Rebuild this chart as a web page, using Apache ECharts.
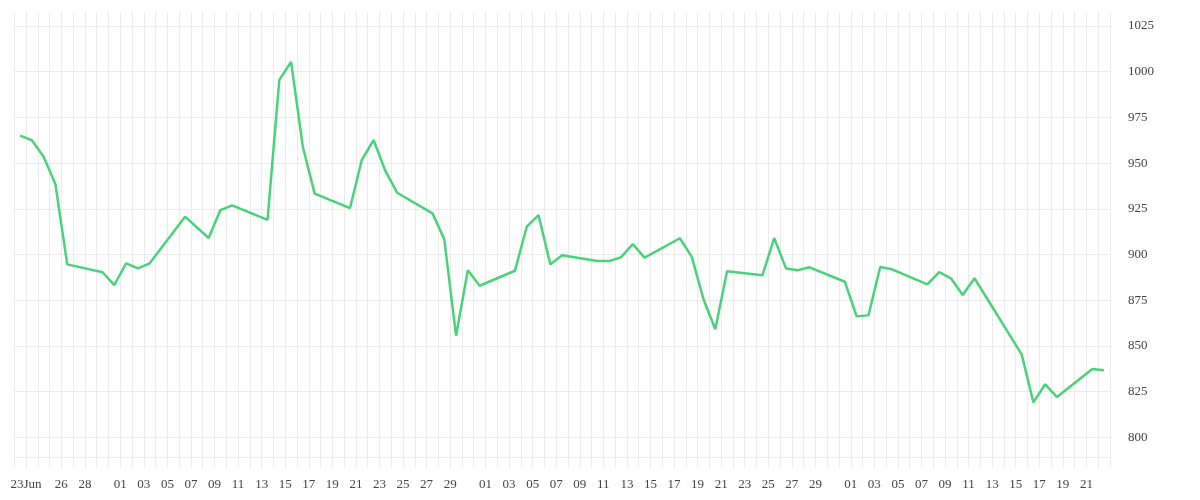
<!DOCTYPE html>
<html>
<head>
<meta charset="utf-8">
<script src="https://cdn.jsdelivr.net/npm/echarts@6/dist/echarts.min.js"></script>
<style>
html,body{margin:0;padding:0;background:#fff;}
#chart{width:1200px;height:500px;}
</style>
</head>
<body>
<div id="chart"></div>
<script>
const dates = ['2020-06-22','2020-06-23','2020-06-24','2020-06-25','2020-06-26','2020-06-29','2020-06-30',
 '2020-07-01','2020-07-02','2020-07-03','2020-07-06','2020-07-08','2020-07-09','2020-07-10','2020-07-13','2020-07-14','2020-07-15','2020-07-16','2020-07-17','2020-07-20','2020-07-21','2020-07-22','2020-07-23','2020-07-24','2020-07-27','2020-07-28','2020-07-29','2020-07-30','2020-07-31',
 '2020-08-03','2020-08-04','2020-08-05','2020-08-06','2020-08-07','2020-08-10','2020-08-11','2020-08-12','2020-08-13','2020-08-14','2020-08-17','2020-08-18','2020-08-19','2020-08-20','2020-08-21','2020-08-24','2020-08-25','2020-08-26','2020-08-27','2020-08-28','2020-08-31',
 '2020-09-01','2020-09-02','2020-09-03','2020-09-04','2020-09-07','2020-09-08','2020-09-09','2020-09-10','2020-09-11','2020-09-15','2020-09-16','2020-09-17','2020-09-18','2020-09-21','2020-09-22'];

const values = [965.0,962.5,953.5,938.4,894.6,890.3,883.3,
 895.2,892.4,895.2,920.7,909.0,924.3,926.9,918.9,995.5,1005.4,958.8,933.3,925.4,951.7,962.6,945.7,933.8,922.5,908.3,855.6,891.4,882.9,
 891.1,915.2,921.6,894.6,899.6,896.4,896.4,898.5,905.7,898.3,908.9,898.8,875.5,859.1,890.8,888.6,909.0,892.4,891.4,893.0,885.1,
 866.2,866.7,893.2,891.9,883.7,890.3,887.0,877.8,887.0,845.4,819.1,829.0,822.0,837.4,836.7];

const tickDates = ['2020-06-23','2020-06-26','2020-06-28',
 '2020-07-01','2020-07-03','2020-07-05','2020-07-07','2020-07-09','2020-07-11','2020-07-13','2020-07-15','2020-07-17','2020-07-19','2020-07-21','2020-07-23','2020-07-25','2020-07-27','2020-07-29',
 '2020-08-01','2020-08-03','2020-08-05','2020-08-07','2020-08-09','2020-08-11','2020-08-13','2020-08-15','2020-08-17','2020-08-19','2020-08-21','2020-08-23','2020-08-25','2020-08-27','2020-08-29',
 '2020-09-01','2020-09-03','2020-09-05','2020-09-07','2020-09-09','2020-09-11','2020-09-13','2020-09-15','2020-09-17','2020-09-19','2020-09-21'];
const tickTexts = ['23Jun','26','28',
 '01','03','05','07','09','11','13','15','17','19','21','23','25','27','29',
 '01','03','05','07','09','11','13','15','17','19','21','23','25','27','29',
 '01','03','05','07','09','11','13','15','17','19','21'];

const yTicks = [800,825,850,875,900,925,950,975,1000,1025];

const xStart = '2020-06-22';
const xEnd = '2020-09-23';
const yMin = 788.84;
const yMax = 1032.66;

const DAY = 86400000;
const toMs = d => Date.parse(d + 'T00:00:00Z');
const labelMap = {};
tickDates.forEach((d, i) => { labelMap[toMs(d)] = tickTexts[i]; });
const seriesData = dates.map((d, i) => [toMs(d) + DAY / 2, values[i]]);

const font = '"Liberation Serif", "Times New Roman", serif';
const chart = echarts.init(document.getElementById('chart'), null, {renderer: 'canvas'});
chart.setOption({
  animation: false,
  backgroundColor: '#ffffff',
  grid: {left: 14.2, right: 90, top: 12, bottom: 42.3, containLabel: false},
  xAxis: {
    type: 'value',
    min: toMs(xStart),
    max: toMs(xEnd),
    interval: DAY,
    axisLine: {show: true, lineStyle: {color: '#ebebeb', width: 1}},
    axisTick: {show: true, length: 10, lineStyle: {color: '#ebebeb', width: 1}},
    splitLine: {show: true, lineStyle: {color: '#ebebeb', width: 1}},
    axisLabel: {
      show: true,
      margin: 20,
      fontFamily: font,
      fontSize: 13,
      color: '#444',
      hideOverlap: false,
      formatter: v => labelMap[v] || ''
    }
  },
  yAxis: {
    type: 'value',
    position: 'right',
    min: yMin,
    max: yMax,
    axisLine: {show: false},
    axisTick: {show: false, customValues: yTicks},
    splitLine: {show: true, lineStyle: {color: '#ebebeb', width: 1}},
    axisLabel: {
      customValues: yTicks,
      margin: 18,
      padding: [4, 0, 0, 0],
      fontFamily: font,
      fontSize: 13,
      color: '#444',
      formatter: v => String(Math.round(v))
    }
  },
  series: [{
    type: 'line',
    data: seriesData,
    showSymbol: false,
    symbol: 'none',
    lineStyle: {color: '#4ad27a', width: 2.5},
    itemStyle: {color: '#4ad27a'}
  }]
});
</script>
</body>
</html>
